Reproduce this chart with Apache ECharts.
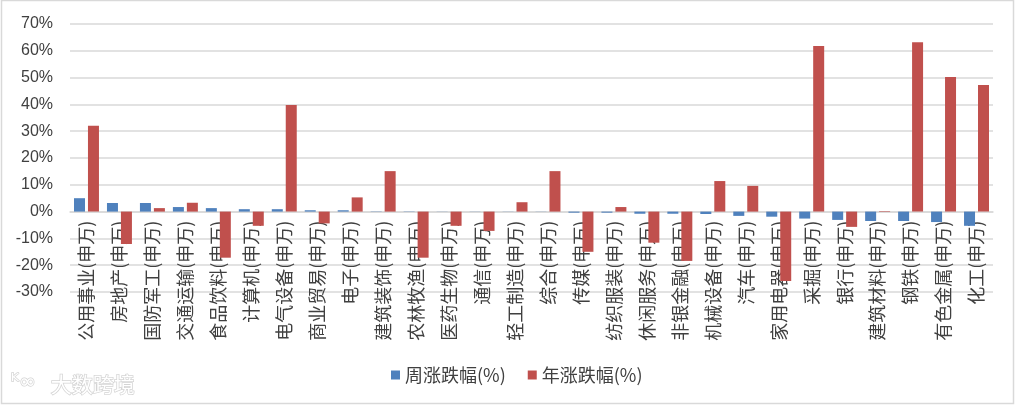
<!DOCTYPE html>
<html>
<head>
<meta charset="utf-8">
<script src="https://cdn.jsdelivr.net/npm/echarts@6/dist/echarts.min.js"></script>
<style>
html,body{margin:0;padding:0;background:#fff;}
#c{width:1018px;height:406px;}
</style>
</head>
<body>
<div id="c"></div>
<script>
const categories = ['公用事业(申万)','房地产(申万)','国防军工(申万)','交通运输(申万)','食品饮料(申万)','计算机(申万)','电气设备(申万)','商业贸易(申万)','电子(申万)','建筑装饰(申万)','农林牧渔(申万)','医药生物(申万)','通信(申万)','轻工制造(申万)','综合(申万)','传媒(申万)','纺织服装(申万)','休闲服务(申万)','非银金融(申万)','机械设备(申万)','汽车(申万)','家用电器(申万)','采掘(申万)','银行(申万)','建筑材料(申万)','钢铁(申万)','有色金属(申万)','化工(申万)'];
const weekly = [5.0,3.2,3.2,1.7,1.3,0.9,0.9,0.5,0.5,0.1,0.1,0.05,0.05,0.05,0.05,-0.4,-0.4,-0.8,-0.8,-0.9,-1.6,-1.9,-2.6,-3.1,-3.5,-3.5,-3.9,-5.3];
const annual = [32.0,-12.1,1.3,3.3,-17.2,-5.3,39.8,-4.4,5.3,15.1,-17.2,-5.3,-7.2,3.5,15.1,-15.0,1.7,-11.6,-18.4,11.4,9.6,-25.9,61.8,-5.7,0.2,63.2,50.2,47.2];
const seriesNames = ['周涨跌幅(%)','年涨跌幅(%)'];
const yMin = -30, yMax = 70, yStep = 10;

const gridTop = 24, gridBottom = 114, H = 406;
const plotH = H - gridTop - gridBottom;
const zeroOffset = -plotH * (0 - yMin) / (yMax - yMin);

const chart = echarts.init(document.getElementById('c'), null, {renderer:'canvas'});
chart.setOption({
  animation:false,
  backgroundColor:'#fff',
  graphic:[
    {type:'rect', shape:{x:1.5,y:0.5,width:1012,height:403}, style:{fill:'none',stroke:'#d9d9d9',lineWidth:1.5}, silent:true, z:-1},
    {type:'text', left:50, top:373, style:{text:'大数跨境', fontSize:21, fontFamily:'Noto Sans CJK SC', fill:'#ffffff', stroke:'#d4d4d4', lineWidth:1.5}},
    {type:'text', left:10, top:372, style:{text:'ᴷ∞', fontSize:20, fontFamily:'DejaVu Sans', fill:'#ffffff', stroke:'#d4d4d4', lineWidth:1.5}}
  ],
  grid:{left:70, right:25, top:gridTop, bottom:gridBottom, containLabel:false, outerBoundsMode:'none'},
  legend:{
    data:seriesNames, bottom:17, left:386,
    icon:'rect', itemWidth:9, itemHeight:9, itemGap:22, itemStyle:{borderWidth:0},
    textStyle:{fontSize:18, color:'#404040', fontFamily:'Noto Sans CJK SC'}
  },
  xAxis:{
    type:'category', data:categories, position:'bottom', offset:zeroOffset,
    axisLine:{onZero:false, lineStyle:{color:'#d9d9d9', width:1.5}},
    axisTick:{show:false},
    axisLabel:{interval:0, rotate:90, fontSize:18, color:'#404040', fontFamily:'Noto Sans CJK SC', margin:9, hideOverlap:false}
  },
  yAxis:{
    type:'value', min:yMin, max:yMax, interval:yStep,
    axisLine:{show:false}, axisTick:{show:false},
    axisLabel:{formatter:'{value}%', fontSize:16, color:'#404040', fontFamily:'Liberation Sans', margin:17},
    splitLine:{lineStyle:{color:'#d9d9d9', width:1.5}}
  },
  series:[
    {name:seriesNames[0], type:'bar', data:weekly, barWidth:11, barGap:'27%', itemStyle:{color:'#4f81bd'}},
    {name:seriesNames[1], type:'bar', data:annual, barWidth:11, itemStyle:{color:'#c0504d'}}
  ]
});
</script>
</body>
</html>
